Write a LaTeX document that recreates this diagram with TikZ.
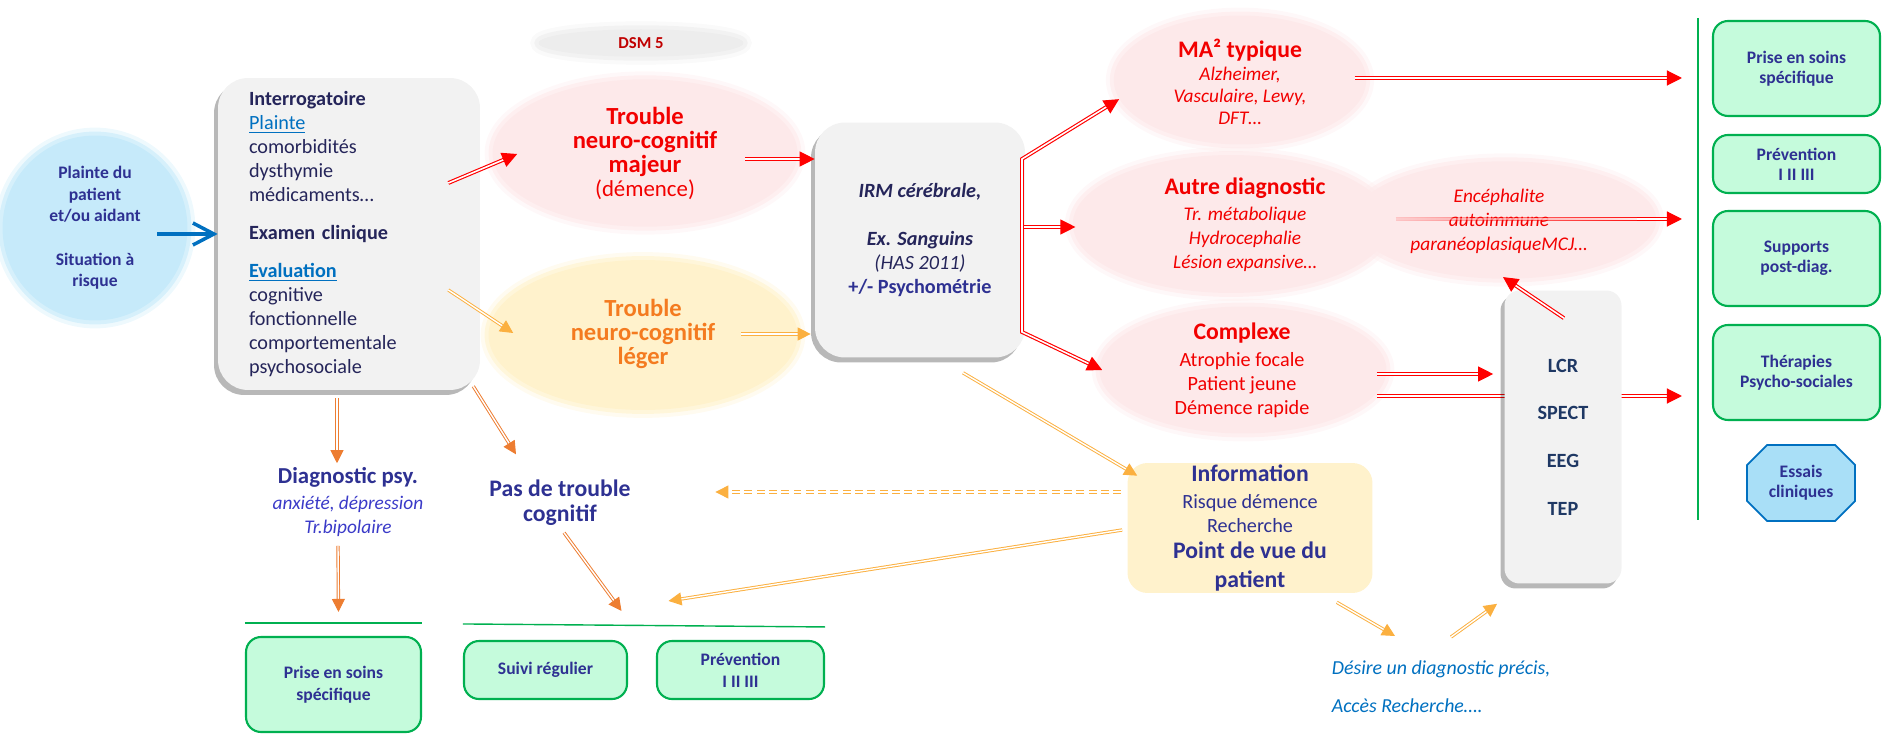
\documentclass[tikz,border=0pt]{standalone}
\usepackage{fontspec}
\setmainfont{Carlito}
\usetikzlibrary{positioning, arrows.meta, shapes.geometric, calc, shadows, fadings}

\definecolor{navy}{HTML}{25255A}
\definecolor{indigo}{HTML}{2E3192}
\definecolor{psyblue}{HTML}{3A3AC8}
\definecolor{linkblue}{HTML}{0070C0}
\definecolor{lcrnavy}{HTML}{1F3864}
\definecolor{tred}{HTML}{F20000}
\definecolor{darkred}{HTML}{C00000}
\definecolor{torange}{HTML}{F47B20}
\definecolor{dorange}{HTML}{ED7D31}
\definecolor{amber}{HTML}{FBB040}
\definecolor{cblue}{HTML}{C6EAFA}
\definecolor{cpink}{HTML}{FDE9EA}
\definecolor{cyellow}{HTML}{FFF2CC}
\definecolor{cgray}{HTML}{EDEDED}
\definecolor{boxgray}{HTML}{F2F2F2}
\definecolor{mint}{HTML}{C5FBDC}
\definecolor{gborder}{HTML}{00B050}
\definecolor{essblue}{HTML}{A9DFF7}

\newcommand{\fsz}[2]{\fontsize{#1}{#2}\selectfont}
\tikzfading[name=fadein, left color=transparent!85, middle color=transparent!75, right color=transparent!0]

\begin{document}
\begin{tikzpicture}[
    x=0.02cm, y=-0.02cm,
    blob/.style={ellipse, inner sep=0pt, fill=#1, preaction={draw=#1, line width=9pt, opacity=0.3}, preaction={draw=#1, line width=4.5pt, opacity=0.6}},
    txt/.style={align=center, inner sep=2pt},
    ttl/.style={font=\fsz{14}{13.66}\bfseries},
    graybox/.style={rectangle, rounded corners=0.6cm, fill=boxgray, drop shadow={shadow xshift=-0.08cm, shadow yshift=-0.1cm, opacity=0.28, fill=black}},
    greenbox/.style={rectangle, rounded corners=0.3cm, draw=gborder, line width=1.2pt, fill=mint, text=indigo, font=\fsz{10}{12.5}\bfseries, align=center},
    redline/.style={draw=red, double=white, double distance=0.9pt, line width=0.65pt},
    redarr/.style={redline, -{Triangle[length=0.3cm, width=0.3cm]}},
    amberarr/.style={draw=amber, double=white, double distance=0.8pt, line width=0.55pt, -{Triangle[length=0.26cm, width=0.26cm]}},
    orarr/.style={draw=dorange, double=white, double distance=0.8pt, line width=0.55pt, -{Triangle[length=0.26cm, width=0.26cm]}},
    bluearr/.style={draw=linkblue, line width=2pt, -{Straight Barb[length=0.42cm, width=0.44cm]}},
    gline/.style={draw=gborder, line width=0.8pt}
]
    \useasboundingbox (0,0) rectangle (1883,736);

    % left part
    \node[blob=cblue, circle, minimum size=3.7cm, align=center, text=indigo, font=\fsz{10}{12.3}\bfseries] (plainte) at (95,228) {Plainte du\\patient\\et/ou aidant\\[12.3pt]Situation à\\risque};

    \node[graybox, minimum width=5.24cm, minimum height=6.24cm, text width=4cm, align=left, text=navy, font=\fsz{11.5}{13.66}] (exam) at (349,234) {%
        \textbf{Interrogatoire}\\
        \textcolor{linkblue}{\underline{Plainte}}\\
        comorbidités\\
        dysthymie\\
        médicaments…\\[0.28cm]
        \textbf{Examen clinique}\\[0.28cm]
        \textcolor{linkblue}{\underline{\textbf{Evaluation}}}\\
        cognitive\\
        fonctionnelle\\
        comportementale\\
        psychosociale};

    % DSM 5 and the two troubles
    \node[blob=cgray, minimum width=4.1cm, minimum height=0.55cm, text=darkred, font=\fsz{9.5}{11}\bfseries] (dsm) at (641,43) {DSM 5};
    \node[blob=cpink, minimum width=6.1cm, minimum height=2.95cm] (majeur) at (645,153) {};
    \node[txt, text=tred, ttl] (majeur-t) at (645,153) {Trouble\\neuro-cognitif\\majeur\\{\fsz{13}{13.66}\mdseries(démence)}};
    \node[blob=cyellow, minimum width=6.18cm, minimum height=3cm] (leger) at (643,335) {};
    \node[txt, text=torange, ttl] (leger-t) at (643,334) {Trouble\\neuro-cognitif\\léger};

    \node[graybox, minimum width=4.2cm, minimum height=4.7cm, align=center, text=navy, font=\fsz{11.5}{13.66}] (irm) at (920,240) {\textbf{\textit{IRM cérébrale,}}\\[13.66pt]\textbf{\textit{Ex. Sanguins}}\\\textit{(HAS 2011)}\\\textcolor{indigo}{\textbf{+/- Psychométrie}}};

    % diagnoses
    \node[blob=cpink, minimum width=6.05cm, minimum height=2.35cm] (ence) at (1505,220) {};
    \node[blob=cpink, minimum width=5.05cm, minimum height=2.58cm] (ma) at (1240,80) {};
    \node[blob=cpink, minimum width=6.33cm, minimum height=2.76cm] (autre) at (1231,224) {};
    \node[blob=cpink, minimum width=5.74cm, minimum height=2.54cm] (complexe) at (1243,370) {};

    \node[txt, text=tred, font=\fsz{11}{12.5}\itshape] (ma-t) at (1240,82) {\fsz{13.5}{13.66}\bfseries\upshape MA² typique\\[0.6pt]Alzheimer,\\Vasculaire, Lewy,\\DFT…};
    \node[txt, text=tred, font=\fsz{11}{13.66}\itshape] (autre-t) at (1245,225) {\fsz{13.5}{13.66}\bfseries\upshape Autre diagnostic\\[1.1pt]Tr. métabolique\\Hydrocephalie\\Lésion expansive…};
    \node[txt, text=tred, font=\fsz{11}{13.66}\itshape] (ence-t) at (1499,221) {Encéphalite\\autoimmune\\paranéoplasiqueMCJ…};
    \node[txt, text=tred, font=\fsz{11.5}{13.66}] (complexe-t) at (1242,370) {\fsz{13.5}{13.66}\bfseries Complexe\\[1.7pt]Atrophie focale\\Patient jeune\\Démence rapide};

    % right column
    \coordinate (gtop) at (1698,18);
    \coordinate (gbot) at (1698,520);
    \draw[gline] (gtop) -- (gbot);
    \node[greenbox, font=\fsz{10}{11.4}\bfseries, minimum width=3.34cm, minimum height=1.9cm] (prise2) at (1796.5,68.5) {Prise en soins\\spécifique};
    \node[greenbox, font=\fsz{10}{11.4}\bfseries, minimum width=3.34cm, minimum height=1.16cm] (prev2) at (1796.5,164) {Prévention\\I II III};
    \node[greenbox, font=\fsz{10}{11.4}\bfseries, minimum width=3.34cm, minimum height=1.9cm] (supp) at (1796.5,258.5) {Supports\\post-diag.};
    \node[greenbox, font=\fsz{10}{11.4}\bfseries, minimum width=3.34cm, minimum height=1.9cm] (ther) at (1796.5,372.5) {Thérapies\\Psycho-sociales};
    \draw[draw=linkblue, fill=essblue, line width=1pt] (1767,445) -- ++(68,0) -- ++(20,20) -- ++(0,36) -- ++(-20,20) -- ++(-68,0) -- ++(-20,-20) -- ++(0,-36) -- cycle;
    \node[txt, text=indigo, font=\fsz{10}{11.4}\bfseries] (essais) at (1801,483) {Essais\\cliniques};

    % complexe, behind the exam box
    \coordinate (cx-lo) at ($(complexe.east)+(-10,26)$);
    \draw[redarr, shorten >=0.6cm] (cx-lo) -- (cx-lo -| ther.west);

    \node[graybox, rounded corners=0.3cm, minimum width=2.34cm, minimum height=5.86cm, align=center, text=lcrnavy, font=\fsz{11.5}{27.1}\bfseries] (lcr) at (1563,437) {LCR\\SPECT\\EEG\\TEP};

    \node[rectangle, rounded corners=0.4cm, fill=cyellow, minimum width=4.9cm, minimum height=2.6cm, inner sep=0pt, align=center, text=indigo, font=\fsz{11.5}{13.66}] (info) at (1250,528) {\fsz{13.5}{14}\bfseries Information\\[1.7pt]Risque démence\\Recherche\\[1.1pt]\fsz{13.5}{14}\bfseries Point de vue du\\[2.8pt]\fsz{13.5}{14}\bfseries patient};
    \node[anchor=north west, inner sep=2pt, align=left, text=linkblue, font=\fsz{11.3}{21.6}\itshape] (desire) at (1328,657) {Désire un diagnostic précis,\\Accès Recherche….};

    % bottom left
    \node[txt, text=psyblue, font=\fsz{11}{13.66}\itshape] (diag) at (348,502) {\textcolor{indigo}{\fsz{13}{13.66}\bfseries\upshape Diagnostic psy.}\\[1.5pt]anxiété, dépression\\Tr.bipolaire};
    \node[txt, text=indigo, font=\fsz{13.5}{14.2}\bfseries] (pas) at (560,503) {Pas de trouble\\cognitif};
    \node[greenbox, minimum width=3.5cm, minimum height=1.9cm] (prise1) at (333.5,684.5) {Prise en soins\\spécifique};
    \node[greenbox, minimum width=3.26cm, minimum height=1.16cm] (suivi) at (545.5,670) {Suivi régulier};
    \node[greenbox, minimum width=3.34cm, minimum height=1.16cm] (prev1) at (740.5,670) {Prévention\\I II III};
    \draw[gline] ([yshift=0.26cm]prise1.north west) -- ([yshift=0.26cm]prise1.north east);
    \draw[gline] ([yshift=0.32cm]suivi.north west) -- ([yshift=0.26cm]prev1.north east);

    % arrows
    \coordinate (entry) at (157,234);
    \draw[bluearr] (entry) -- (exam.west);
    \draw[redarr] ($(exam.east)+(-32,-51)$) -- ($(majeur.west)+(25,1)$);
    \draw[amberarr] ($(exam.east)+(-32,56)$) -- ($(leger.west)+(25,-2)$);
    \draw[redarr] ($(majeur.east)+(-53,6)$) -- ($(irm.west)+(0,-81)$);
    \draw[amberarr] ($(leger.east)+(-57,-1)$) -- ($(irm.west)+(-4,94)$);

    \coordinate (fk-top) at (1022,159);
    \coordinate (fk-mid) at (1024,227);
    \coordinate (fk-bot) at (1022,332);
    \draw[redarr, {Triangle[length=0.3cm, width=0.3cm]}-{Triangle[length=0.3cm, width=0.3cm]}] (ma.189) -- (fk-top) -- (fk-bot) -- ($(complexe.west)+(3,0)$);
    \draw[redarr] (fk-mid) -- ($(autre.west)+(3,3)$);

    \coordinate (ma-out) at ($(ma.east)+(-12,-2)$);
    \draw[redarr, shorten >=0.6cm] (ma-out) -- (ma-out -| prise2.west);
    \coordinate (autre-out) at ($(autre.east)+(6,-5)$);
    \coordinate (autre-end) at (autre-out -| supp.west);
    \draw[redline, path fading=fadein] (autre-out) -- ($(autre-end)+(-52,0)$);
    \draw[redarr, shorten >=0.6cm] ($(autre-end)+(-75,0)$) -- (autre-end);
    \coordinate (cx-up) at ($(complexe.east)+(-10,4)$);
    \draw[redarr, shorten >=0.22cm] (cx-up) -- (cx-up -| lcr.west);
    \draw[redarr] ($(lcr.north)+(1,28)$) -- ($(ence.south)+(-2,-2)$);

    \draw[orarr] ($(exam.south)+(-12,8)$) -- ($(diag.north)+(-11,0)$);
    \draw[orarr] ($(diag.south)+(-10,5)$) -- ($(prise1.north)+(5,-24)$);
    \draw[orarr] ($(exam.south east)+(-7,-4)$) -- ($(pas.north)+(-44,-22)$);
    \draw[orarr] ($(pas.south)+(4,3)$) -- ($(suivi.north)+(76,-29)$);

    \draw[amberarr] ($(irm.south)+(43,15)$) -- ($(info.north west)+(10,13)$);
    \coordinate (pas-in) at ($(pas.east)+(81,-11)$);
    \draw[amberarr, dash pattern=on 4.5pt off 2.5pt, shorten <=0.12cm] (pas-in -| info.west) -- (pas-in);
    \draw[amberarr] ($(info.west)+(-5,2)$) -- ($(prev1.north)+(-72,-39)$);
    \draw[amberarr] ($(info.south east)+(-36,9)$) -- ($(desire.north west)+(67,-21)$);
    \draw[amberarr] ($(desire.north west)+(123,-20)$) -- ($(lcr.south)+(-66,20)$);
\end{tikzpicture}
\end{document}
